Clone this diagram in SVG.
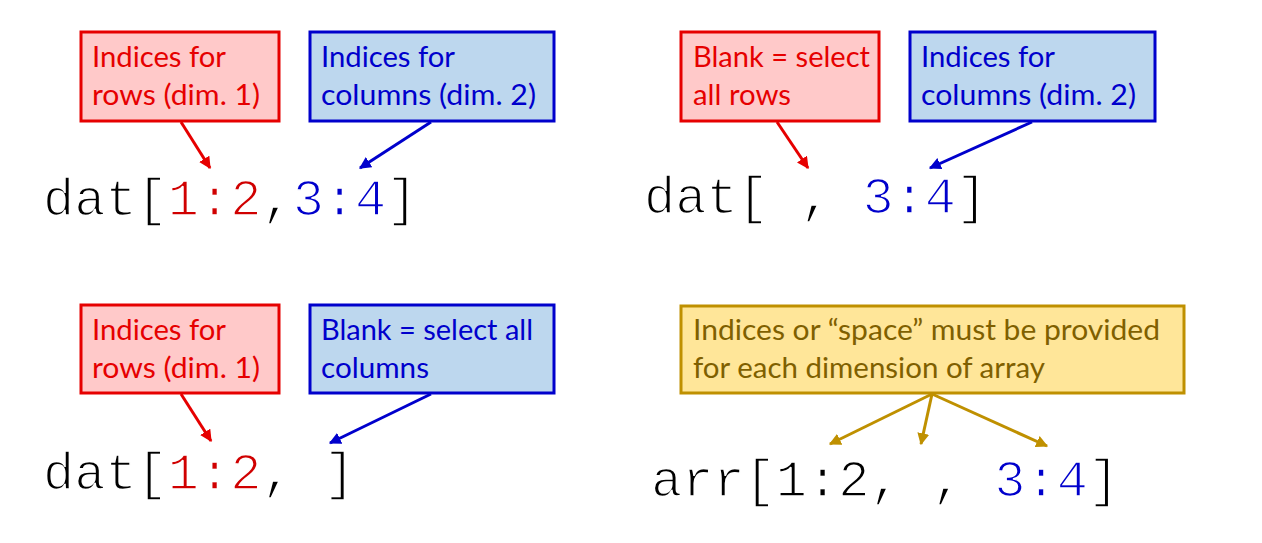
<svg xmlns="http://www.w3.org/2000/svg" width="1262" height="543" viewBox="0 0 1262 543">
<style>
.lbl{font-family:Lato,"Open Sans",sans-serif;font-size:28px}
.code{font-family:"Liberation Mono","Courier New",monospace;font-size:52px;fill:#000;stroke:#fff;stroke-width:1.6px}
.rbox{fill:#ffc9c9;stroke:#e60000;stroke-width:3}
.bbox{fill:#bdd7ee;stroke:#0000cc;stroke-width:3}
.ybox{fill:#ffe699;stroke:#bf9000;stroke-width:3}
.rt{fill:#e60000}.bt{fill:#0000cc}.yt{fill:#7f6000}
.cr{fill:#d00000}.cb{fill:#0000cc}
.ar{stroke:#e60000;stroke-width:3;fill:none;marker-end:url(#mr)}
.ab{stroke:#0000cc;stroke-width:3;fill:none;marker-end:url(#mb)}
.ay{stroke:#bf9000;stroke-width:3;fill:none;marker-end:url(#my)}
</style>
<defs>
<marker id="mr" viewBox="0 0 10 10" refX="9" refY="5" markerWidth="4" markerHeight="4" orient="auto"><path d="M0,0L10,5L0,10z" fill="#e60000"/></marker>
<marker id="mb" viewBox="0 0 10 10" refX="9" refY="5" markerWidth="4" markerHeight="4" orient="auto"><path d="M0,0L10,5L0,10z" fill="#0000cc"/></marker>
<marker id="my" viewBox="0 0 10 10" refX="9" refY="5" markerWidth="4" markerHeight="4" orient="auto"><path d="M0,0L10,5L0,10z" fill="#bf9000"/></marker>
</defs>
<rect width="1262" height="543" fill="#fff"/>

<g id="tl-rows">
<rect class="rbox" x="81" y="32" width="198" height="89"/>
<text class="lbl rt" x="92" y="67" textLength="134" lengthAdjust="spacingAndGlyphs">Indices for</text>
<text class="lbl rt" x="92" y="105" textLength="168" lengthAdjust="spacingAndGlyphs">rows (dim. 1)</text>
</g>
<g id="tl-cols">
<rect class="bbox" x="310" y="32" width="244" height="89"/>
<text class="lbl bt" x="321" y="67" textLength="134" lengthAdjust="spacingAndGlyphs">Indices for</text>
<text class="lbl bt" x="321" y="105" textLength="215" lengthAdjust="spacingAndGlyphs">columns (dim. 2)</text>
</g>
<g id="tl-code">
<text class="code" x="43" y="215">dat[<tspan class="cr">1:2</tspan>,<tspan class="cb">3:4</tspan>]</text>
</g>

<g id="tr-rows">
<rect class="rbox" x="681" y="32" width="198" height="89"/>
<text class="lbl rt" x="693" y="67" textLength="177" lengthAdjust="spacingAndGlyphs">Blank = select</text>
<text class="lbl rt" x="693" y="105" textLength="98" lengthAdjust="spacingAndGlyphs">all rows</text>
</g>
<g id="tr-cols">
<rect class="bbox" x="910" y="32" width="245" height="89"/>
<text class="lbl bt" x="921" y="67" textLength="134" lengthAdjust="spacingAndGlyphs">Indices for</text>
<text class="lbl bt" x="921" y="105" textLength="215" lengthAdjust="spacingAndGlyphs">columns (dim. 2)</text>
</g>
<g id="tr-code">
<text class="code" x="644" y="213">dat[ , <tspan class="cb">3:4</tspan>]</text>
</g>

<g id="bl-rows">
<rect class="rbox" x="81" y="305" width="198" height="88"/>
<text class="lbl rt" x="92" y="340" textLength="134" lengthAdjust="spacingAndGlyphs">Indices for</text>
<text class="lbl rt" x="92" y="378" textLength="168" lengthAdjust="spacingAndGlyphs">rows (dim. 1)</text>
</g>
<g id="bl-cols">
<rect class="bbox" x="310" y="305" width="244" height="88"/>
<text class="lbl bt" x="321" y="340" textLength="212" lengthAdjust="spacingAndGlyphs">Blank = select all</text>
<text class="lbl bt" x="321" y="378" textLength="108" lengthAdjust="spacingAndGlyphs">columns</text>
</g>
<g id="bl-code">
<text class="code" x="43" y="489">dat[<tspan class="cr">1:2</tspan>, ]</text>
</g>

<g id="br-note">
<rect class="ybox" x="681" y="306" width="503" height="87"/>
<text class="lbl yt" x="693" y="340" textLength="467" lengthAdjust="spacingAndGlyphs">Indices or “space” must be provided</text>
<text class="lbl yt" x="693" y="378" textLength="352" lengthAdjust="spacingAndGlyphs">for each dimension of array</text>
</g>
<g id="br-code">
<text class="code" x="651" y="496">arr[1:2, , <tspan class="cb">3:4</tspan>]</text>
</g>

<g id="connectors">
<line class="ar" x1="181" y1="122" x2="210" y2="168"/>
<line class="ab" x1="431" y1="122" x2="360" y2="168"/>
<line class="ar" x1="777" y1="122" x2="808" y2="168"/>
<line class="ab" x1="1032" y1="122" x2="930" y2="168"/>
<line class="ar" x1="181" y1="394" x2="211" y2="441"/>
<line class="ab" x1="431" y1="394" x2="330" y2="443"/>
<line class="ay" x1="932" y1="394" x2="830" y2="444"/>
<line class="ay" x1="932" y1="394" x2="921" y2="444"/>
<line class="ay" x1="932" y1="394" x2="1047" y2="446"/>
</g>
</svg>
